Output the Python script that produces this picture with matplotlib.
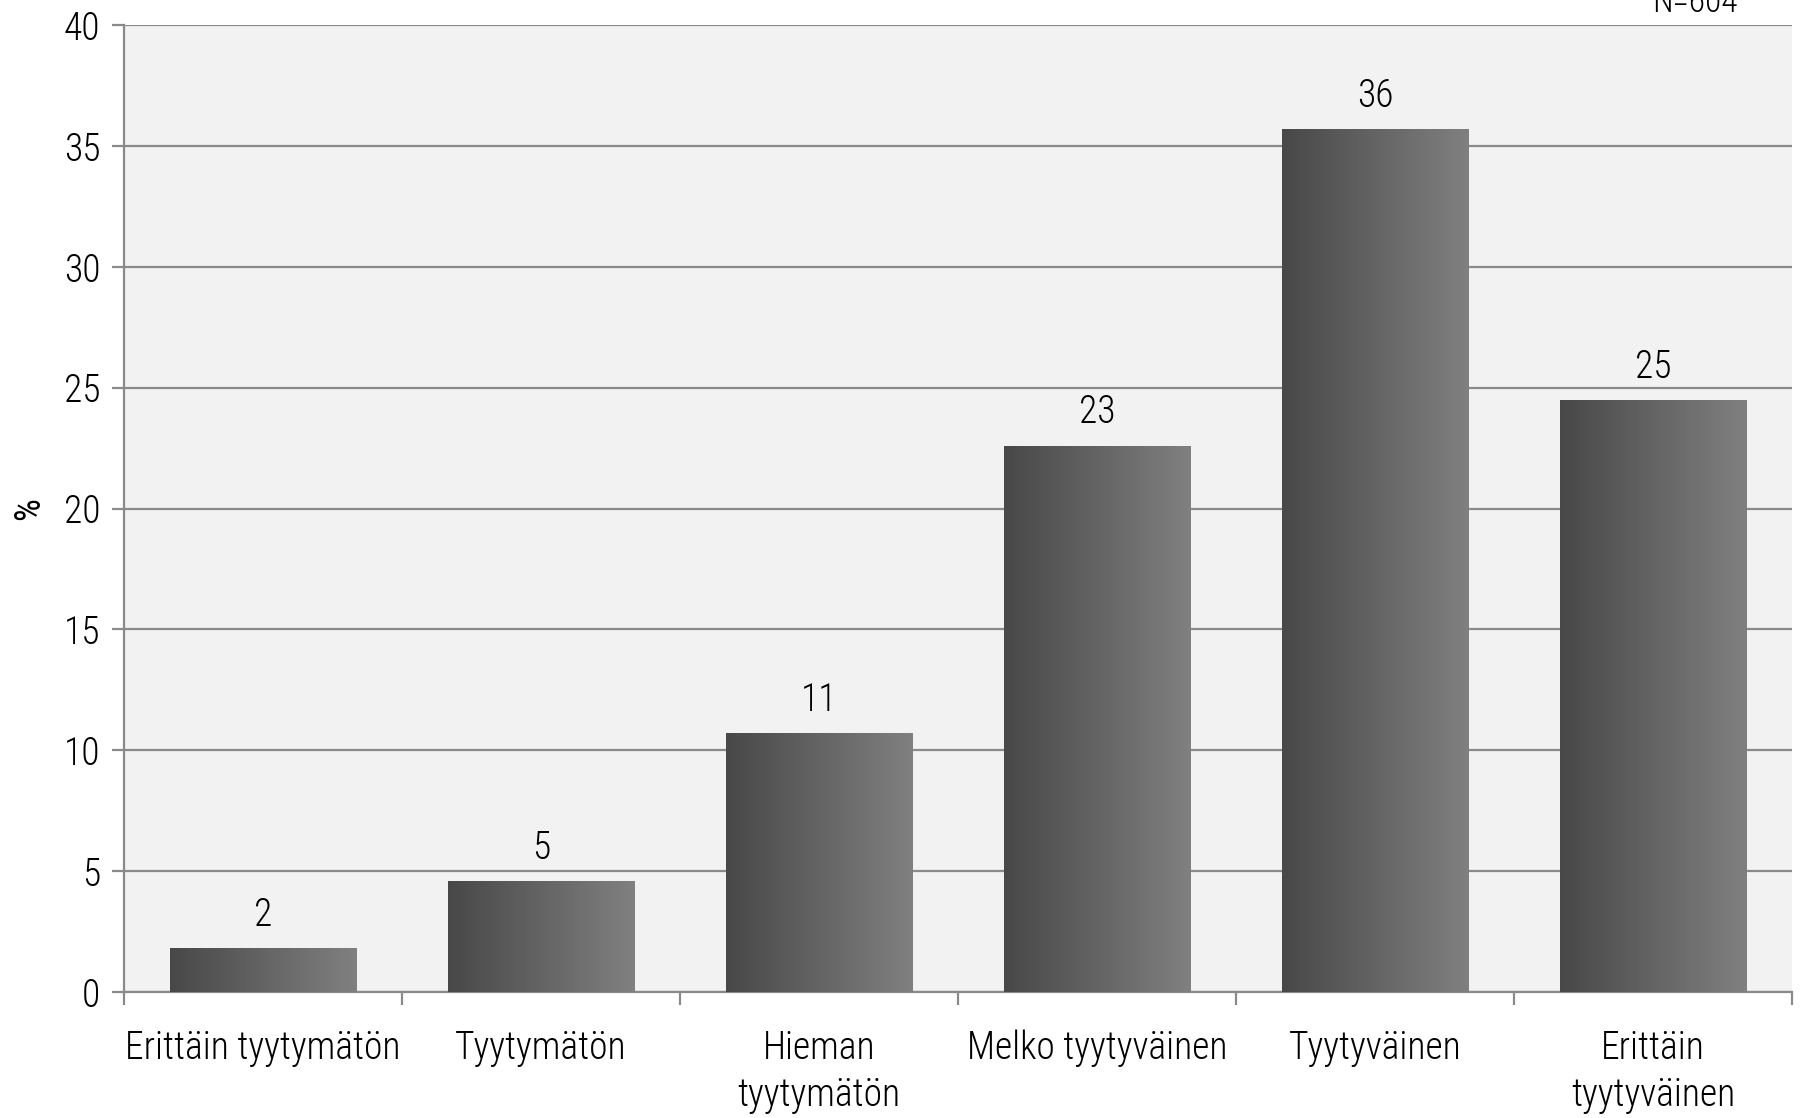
import numpy as np
import matplotlib
matplotlib.use("Agg")
import matplotlib.pyplot as plt
from matplotlib.colors import LinearSegmentedColormap

plt.rcParams['font.family'] = ['Roboto Condensed', 'DejaVu Sans']
plt.rcParams['font.weight'] = 'light'

## data
categories = ["Erittäin tyytymätön", "Tyytymätön", "Hieman\ntyytymätön",
              "Melko tyytyväinen", "Tyytyväinen", "Erittäin\ntyytyväinen"]
values = [1.8, 4.6, 10.7, 22.6, 35.7, 24.5]
labels = ["2", "5", "11", "23", "36", "25"]
n_note = "N=604"

grid_col = "#8a8a8a"
fs = 27
fig = plt.figure(figsize=(18.01, 11.18), dpi=100)
ax = fig.add_axes([0.0689, 0.1127, 0.9261, 0.8649])
ax.set_facecolor("#f2f2f2")

x = np.arange(len(values))
bars = ax.bar(x, values, width=0.67, color="#656565", zorder=2)

# horizontal gradient in every bar
cmap = LinearSegmentedColormap.from_list("g", ["#484848", "#808080"])
grad = np.linspace(0, 1, 256).reshape(1, -1)
for b in bars:
    x0, y0 = b.get_x(), b.get_y()
    im = ax.imshow(grad, extent=[x0, x0 + b.get_width(), y0, y0 + b.get_height()],
                   cmap=cmap, aspect="auto", zorder=3, interpolation="bicubic")
    im.set_clip_path(b)

for xi, v, lab in zip(x, values, labels):
    ax.annotate(lab, (xi, v), xytext=(0, 16), textcoords="offset points",
                ha="center", va="baseline", fontsize=fs, zorder=4)

ax.set_xlim(-0.5, len(values) - 0.5)
ax.set_ylim(0, 40)
ax.set_yticks(range(0, 41, 5))
ax.yaxis.grid(True, color=grid_col, linewidth=1.6, zorder=1)
ax.set_axisbelow(True)

ax.set_xticks(x)
ax.set_xticklabels(categories, fontsize=fs, linespacing=1.32)
ax.set_xticks(np.arange(-0.5, len(values)), minor=True)
ax.tick_params(axis="x", which="major", length=0, pad=27)
ax.tick_params(axis="x", which="minor", length=9, width=1.6, color=grid_col)
ax.tick_params(axis="y", length=9, width=1.6, color=grid_col, labelsize=fs, pad=8)

for s in ["top", "right"]:
    ax.spines[s].set_visible(False)
for s in ["left", "bottom"]:
    ax.spines[s].set_color(grid_col)
    ax.spines[s].set_linewidth(1.6)

ax.set_ylabel("%", fontsize=26, labelpad=12)
fig.text(1738 / 1801, 1 - 12 / 1118, n_note, ha="right", va="baseline", fontsize=24)

fig.savefig("out.png", dpi=100)
